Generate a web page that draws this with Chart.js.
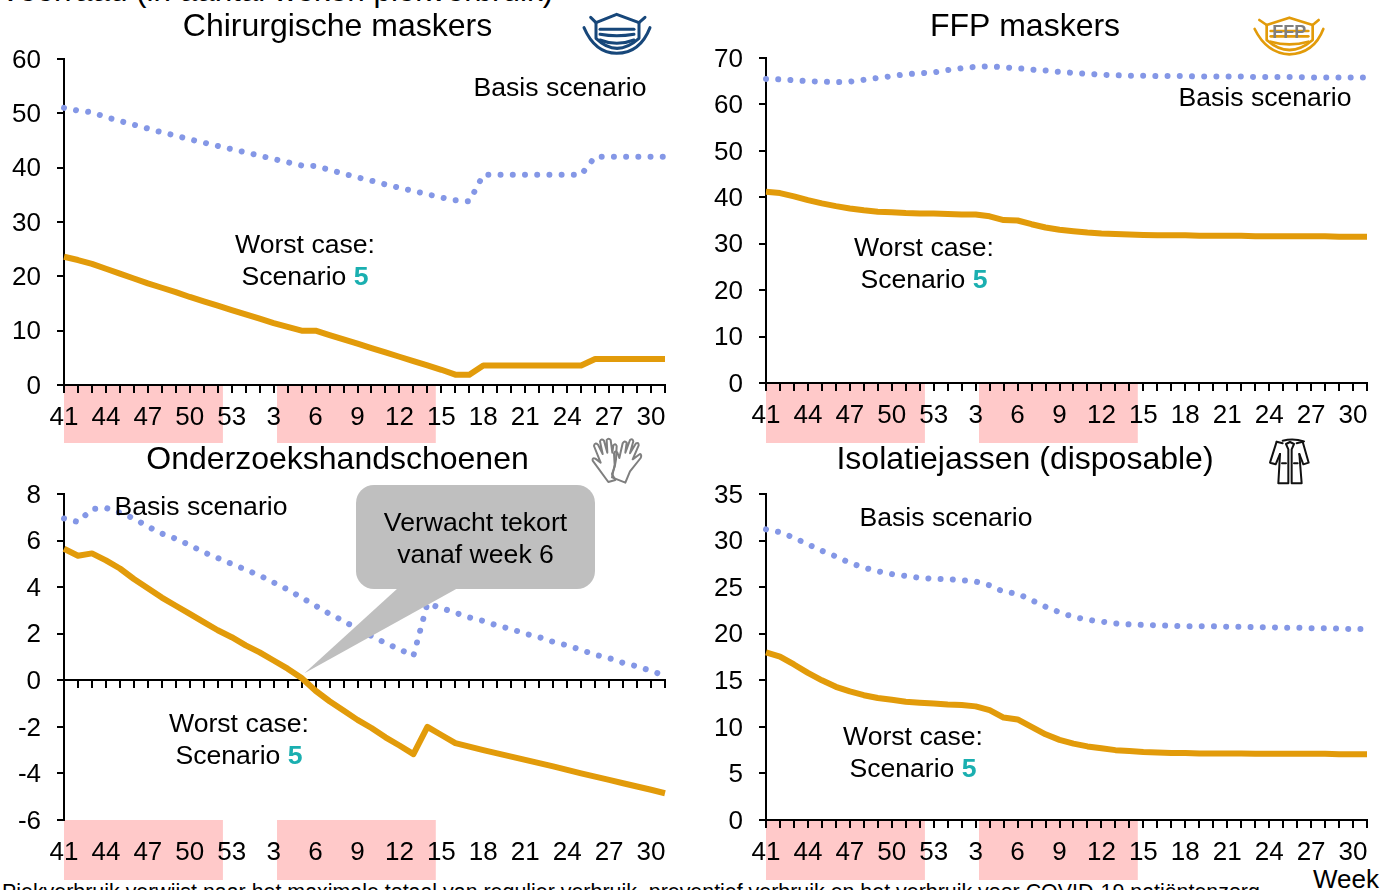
<!DOCTYPE html>
<html lang="nl">
<head>
<meta charset="utf-8">
<title>Voorraad</title>
<script src="https://cdn.jsdelivr.net/npm/chart.js@4"></script>
<style>
  html, body { margin: 0; padding: 0; background: #fff; overflow: hidden; width: 1386px; height: 890px; }
  body { position: relative; font-family: "Liberation Sans", Arial, sans-serif; color: #000; }
  canvas { position: absolute; }
  .txt { position: absolute; white-space: nowrap; }
  svg { position: absolute; fill: none; }
</style>
</head>
<body>
<div class="txt" id="head" style="left:0;top:-26px;font-size:31.4px;line-height:34px">Voorraad (in aantal weken piekverbruik)</div>
<div class="txt" id="foot" style="left:2px;top:881px;font-size:21.4px;line-height:22px">Piekverbruik verwijst naar het maximale totaal van regulier verbruik, preventief verbruik en het verbruik voor COVID-19 patiëntenzorg.</div>
<div class="txt" id="week" style="left:1313px;top:864px;font-size:26px;line-height:30px">Week</div>

<canvas id="c1" width="675" height="437" style="left:0;top:8px"></canvas>
<canvas id="c2" width="704" height="437" style="left:673px;top:8px"></canvas>
<canvas id="c3" width="675" height="441" style="left:0;top:441px"></canvas>
<canvas id="c4" width="704" height="441" style="left:673px;top:441px"></canvas>

<!-- iconen -->
<svg style="left:570px;top:0" width="90" height="60" viewBox="0 0 270 180" stroke="#17477a" stroke-width="9" stroke-linecap="round" stroke-linejoin="round">
  <path d="M62 52 L78 68 L140 43 L207 68 L225 52"/>
  <path d="M78 68 L78 115 Q140 175 207 115 L207 68"/>
  <path d="M42 83 Q75 160 140 160 Q210 160 240 83"/>
  <path d="M90 88 L192 88"/><path d="M90 103 Q140 112 192 103"/><path d="M90 120 Q140 140 192 120"/>
</svg>
<svg style="left:1240px;top:5px" width="100" height="55" viewBox="0 0 300 165" stroke="#e29b0a" stroke-width="8" stroke-linecap="round" stroke-linejoin="round">
  <path d="M58 45 L80 60 L148 38 L218 60 L236 45"/>
  <path d="M80 60 L80 105 Q148 165 218 105 L218 60"/>
  <path d="M44 72 Q80 145 148 148 Q222 145 250 72"/>
  <path d="M92 78 L205 78"/><path d="M92 94 L205 94"/><path d="M92 110 Q148 126 205 110"/>
  <text x="148" y="100" text-anchor="middle" font-size="54" font-weight="bold" font-family="Liberation Sans" fill="#7f7f7f" stroke="none">FFP</text>
</svg>
<svg style="left:580px;top:430px" width="70" height="60" viewBox="0 0 210 180" stroke="#7f7f7f" stroke-width="6" stroke-linejoin="round" stroke-linecap="round">
  <path d="M85 156 L38 92 Q36 82 46 86 L62 98 L42 48 Q44 36 54 44 L68 72 L60 34 Q64 24 72 32 L82 68 L80 30 Q86 22 92 30 L97 68 L100 46 Q106 38 110 48 L108 88 Q106 112 96 132 L106 150 Z"/>
  <path d="M96 142 L104 104 L102 70 Q106 60 112 68 L118 84 L128 40 Q134 30 140 38 L136 68 L150 30 Q158 24 160 34 L150 70 L168 40 Q176 36 176 46 L158 88 L180 72 Q186 74 182 84 L150 124 L136 158 Z"/>
</svg>
<svg style="left:1260px;top:430px" width="60" height="60" viewBox="0 0 180 180" stroke="#111" stroke-width="6" stroke-linejoin="round" stroke-linecap="round">
  <path d="M68 32 Q100 24 132 34"/>
  <path d="M50 35 L30 98 L47 103 L60 72"/>
  <path d="M128 35 L146 98 L130 103 L118 72"/>
  <path d="M50 35 L68 40 M128 35 L110 40"/>
  <path d="M60 72 L55 160 L85 160 L85 58 L78 42 L90 36 L102 42 L95 58 L95 160 L125 160 L118 72"/>
  <path d="M66 100 L78 100 M102 100 L113 100"/>
</svg>

<script>
const weeks = [41,42,43,44,45,46,47,48,49,50,51,52,53,1,2,3,4,5,6,7,8,9,10,11,12,13,14,15,16,17,18,19,20,21,22,23,24,25,26,27,28,29,30,31];

const chirBasis = [51,50.5,50.2,49.3,48.6,47.9,47.2,46.5,45.9,45.2,44.6,44,43.4,42.8,42.2,41.6,41,40.4,40.3,39.6,38.9,38.2,37.6,36.9,36.3,35.7,35.1,34.5,34,33.8,38.7,38.7,38.7,38.7,38.7,38.7,38.7,38.7,42,42,42,42,42,42];
const chirWorst = [23.6,23,22.3,21.4,20.5,19.6,18.7,17.9,17.1,16.2,15.4,14.6,13.8,13,12.2,11.4,10.7,10,10,9.2,8.4,7.6,6.8,6,5.2,4.4,3.6,2.8,1.9,1.9,3.6,3.6,3.6,3.6,3.6,3.6,3.6,3.6,4.8,4.8,4.8,4.8,4.8,4.8];

const ffpBasis = [65.5,65.4,65.2,65,64.9,64.8,64.9,65.3,65.7,66.1,66.5,66.7,66.9,67.4,67.8,68.1,68.2,68,67.8,67.5,67.3,67,66.8,66.6,66.4,66.3,66.2,66.2,66.1,66.1,66.1,66,66,66,66,65.9,65.9,65.9,65.9,65.8,65.8,65.8,65.8,65.8];
const ffpWorst = [41.2,40.9,40.2,39.4,38.7,38.1,37.6,37.2,36.9,36.8,36.6,36.5,36.5,36.4,36.3,36.3,35.9,35.1,35,34.2,33.5,33,32.7,32.4,32.2,32.1,32,31.9,31.8,31.8,31.8,31.7,31.7,31.7,31.7,31.6,31.6,31.6,31.6,31.6,31.6,31.5,31.5,31.5];

const handBasis = [6.95,6.8,7.35,7.4,7.2,6.95,6.6,6.3,6.08,5.8,5.5,5.25,5,4.75,4.5,4.2,3.9,3.55,3.2,2.85,2.55,2.2,1.9,1.6,1.33,1.05,3.3,3.1,2.9,2.7,2.55,2.35,2.2,2,1.85,1.65,1.5,1.3,1.1,0.95,0.75,0.6,0.4,0.2];
const handWorst = [5.65,5.35,5.45,5.15,4.8,4.35,3.95,3.55,3.2,2.85,2.5,2.15,1.85,1.5,1.2,0.85,0.5,0.1,-0.45,-0.9,-1.3,-1.7,-2.05,-2.45,-2.8,-3.17,-2,-2.35,-2.7,-2.85,-3,-3.14,-3.28,-3.42,-3.56,-3.7,-3.85,-4,-4.14,-4.28,-4.42,-4.56,-4.7,-4.85];

const jasBasis = [31.2,30.9,30.3,29.6,28.9,28.3,27.6,27.1,26.7,26.4,26.2,26,25.9,25.85,25.75,25.6,25.2,24.5,24.3,23.6,22.9,22.3,21.8,21.5,21.3,21.1,21,20.95,20.9,20.85,20.8,20.8,20.8,20.75,20.75,20.7,20.7,20.65,20.65,20.6,20.6,20.55,20.5,20.5];
const jasWorst = [18,17.55,16.7,15.8,15,14.3,13.8,13.4,13.1,12.9,12.7,12.6,12.5,12.4,12.35,12.2,11.8,11,10.8,10,9.2,8.6,8.2,7.9,7.7,7.5,7.4,7.3,7.25,7.2,7.2,7.15,7.15,7.15,7.15,7.1,7.1,7.1,7.1,7.1,7.1,7.05,7.05,7.05];

// pink week bands, as fractional positions on the week axis
const bandStarts = [0, 15.24];
const bandEnds = [11.37, 26.6];

const basisColor = "#8497e6";
const worstColor = "#e29b0a";
const tealColor = "#1aafb0";
const bandColor = "#ffc9c9";
const fontFamily = '"Liberation Sans", Arial, sans-serif';
const noteFont = "26.6px " + fontFamily;

// draws the pink bands behind the week labels, nudges the y labels down a bit
const bandPlugin = {
  id: "bands",
  beforeDraw(chart, args, opts) {
    const ctx = chart.ctx, xs = chart.scales.x, top = chart.chartArea.bottom;
    ctx.save();
    ctx.fillStyle = bandColor;
    bandStarts.forEach((s, i) => {
      const a = xs.getPixelForValue(s), b = xs.getPixelForValue(bandEnds[i]);
      ctx.fillRect(a, top, b - a, opts.depth);
    });
    ctx.restore();
    chart.scales.y.getLabelItems(chart.chartArea).forEach(item => {
      item.options.translation[1] += 1.5;
    });
  }
};

// draws "Basis scenario" and "Worst case: Scenario 5"
const notePlugin = {
  id: "notes",
  afterDraw(chart, args, opts) {
    const ctx = chart.ctx;
    ctx.save();
    ctx.textBaseline = "middle";
    ctx.font = noteFont;
    ctx.fillStyle = "#000";

    if (opts.callout) {
      const c = opts.callout;
      const tipX = chart.scales.x.getPixelForValue(c.tipIndex);
      const tipY = chart.scales.y.getPixelForValue(c.tipValue);
      ctx.fillStyle = "#bfbfbf";
      ctx.beginPath();
      ctx.roundRect(c.x, c.y, c.w, c.h, 18);
      ctx.fill();
      ctx.beginPath();
      ctx.moveTo(c.tailA, c.y + c.h - 1);
      ctx.lineTo(tipX, tipY);
      ctx.lineTo(c.tailB, c.y + c.h - 1);
      ctx.closePath();
      ctx.fill();
      ctx.fillStyle = "#000";
      ctx.textAlign = "center";
      ctx.fillText("Verwacht tekort", c.x + c.w / 2, c.y + 39);
      ctx.fillText("vanaf week 6", c.x + c.w / 2, c.y + 71);
    }

    ctx.textAlign = "center";
    ctx.fillText("Basis scenario", opts.basisX, opts.basisY);
    ctx.fillText("Worst case:", opts.worstX, opts.worstY);
    const w1 = ctx.measureText("Scenario ").width;
    ctx.font = "bold " + noteFont;
    const w2 = ctx.measureText("5").width;
    const start = opts.worstX - (w1 + w2) / 2;
    ctx.textAlign = "left";
    ctx.fillStyle = tealColor;
    ctx.fillText("5", start + w1, opts.worstY + 32);
    ctx.font = noteFont;
    ctx.fillStyle = "#000";
    ctx.fillText("Scenario ", start, opts.worstY + 32);
    ctx.restore();
  }
};

function makePanel(id, title, basis, worst, yMin, yMax, yStep, yWidth, titleGap, xHeight, notes) {
  return new Chart(id, {
    type: "line",
    data: {
      labels: weeks,
      datasets: [
        { label: "Basis scenario", data: basis, borderColor: basisColor, borderWidth: 6, borderDash: [0.01, 12.2], borderCapStyle: "round", pointRadius: 0, tension: 0, clip: false },
        { label: "Worst case", data: worst, borderColor: worstColor, borderWidth: 6, borderJoinStyle: "round", pointRadius: 0, tension: 0, clip: false }
      ]
    },
    options: {
      responsive: false,
      animation: false,
      events: [],
      layout: { autoPadding: false, padding: { left: 10, right: 10, top: 0, bottom: 0 } },
      plugins: {
        legend: { display: false },
        tooltip: { enabled: false },
        title: {
          display: true,
          text: title,
          color: "#000",
          font: { family: fontFamily, size: 32, weight: "normal" },
          padding: { top: 0, bottom: titleGap }
        },
        bands: { depth: xHeight - 2 },
        notes: notes
      },
      scales: {
        x: {
          type: "category",
          position: "bottom",
          grid: { display: false },
          border: { display: false },
          ticks: {
            color: "#000",
            font: { family: fontFamily, size: 26 },
            autoSkip: false,
            maxRotation: 0,
            padding: 9,
            callback: (v, i) => i % 3 === 0 ? weeks[i] : ""
          },
          afterFit: s => { s.height = xHeight; }
        },
        axisLine: {
          type: "category",
          axis: "x",
          labels: weeks,
          position: { y: 0 },
          grid: { drawOnChartArea: false, drawTicks: true, tickLength: 7, color: "#000", lineWidth: 2 },
          border: { display: true, color: "#000", width: 2 },
          ticks: { display: false, autoSkip: false, maxRotation: 0 }
        },
        y: {
          min: yMin,
          max: yMax,
          ticks: { stepSize: yStep, color: "#000", font: { family: fontFamily, size: 26 }, padding: 16 },
          grid: { drawOnChartArea: false, drawTicks: true, tickLength: 7, color: "#000", lineWidth: 2 },
          border: { display: true, color: "#000", width: 2 },
          afterFit: s => { s.width = yWidth; }
        }
      }
    },
    plugins: [bandPlugin, notePlugin]
  });
}

makePanel("c1", "Chirurgische maskers", chirBasis, chirWorst, 0, 60, 10, 54, 12.6, 60,
  { basisX: 560, basisY: 81, worstX: 305, worstY: 238 });
makePanel("c2", "FFP maskers", ffpBasis, ffpWorst, 0, 70, 10, 83, 11.6, 62,
  { basisX: 592, basisY: 91, worstX: 251, worstY: 241 });
makePanel("c3", "Onderzoekshandschoenen", handBasis, handWorst, -6, 8, 2, 54, 14.6, 62,
  { basisX: 201, basisY: 67, worstX: 239, worstY: 284,
    callout: { x: 356, y: 44, w: 239, h: 104, tailA: 398, tailB: 458, tipIndex: 17.2, tipValue: 0.3 } });
makePanel("c4", "Isolatiejassen (disposable)", jasBasis, jasWorst, 0, 35, 5, 83, 14.6, 62,
  { basisX: 273, basisY: 78, worstX: 240, worstY: 297 });
</script>
</body>
</html>
